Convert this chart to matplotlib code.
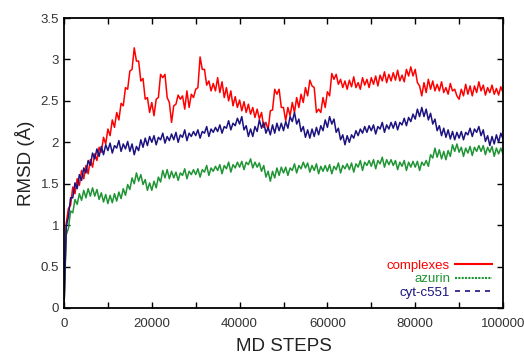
import matplotlib
matplotlib.use("Agg")
import matplotlib.pyplot as plt
from matplotlib.lines import Line2D
from matplotlib.ticker import MultipleLocator, FuncFormatter
import numpy as np

plt.rcParams['font.family'] = ['Liberation Sans', 'DejaVu Sans']

# MD steps, sampled every 500 steps
steps = np.arange(0, 100001, 500)

# RMSD (Angstrom)
complexes = [
    0.00, 1.02, 1.20, 1.24, 1.46, 1.38, 1.56, 1.48, 1.66, 1.56,
    1.72, 1.62, 1.79, 1.70, 1.86, 1.78, 1.94, 1.88, 2.06, 1.98,
    2.16, 2.08, 2.27, 2.18, 2.36, 2.27, 2.47, 2.44, 2.66, 2.64,
    2.86, 2.88, 3.14, 2.98, 2.98, 2.74, 2.77, 2.52, 2.54, 2.36,
    2.48, 2.32, 2.52, 2.54, 2.82, 2.78, 2.82, 2.54, 2.48, 2.24,
    2.44, 2.46, 2.57, 2.52, 2.56, 2.40, 2.62, 2.42, 2.58, 2.54,
    2.64, 2.66, 3.03, 2.88, 2.88, 2.69, 2.74, 2.62, 2.71, 2.62,
    2.78, 2.60, 2.73, 2.54, 2.66, 2.50, 2.62, 2.44, 2.55, 2.42,
    2.51, 2.38, 2.49, 2.36, 2.46, 2.34, 2.42, 2.30, 2.40, 2.28,
    2.36, 2.18, 2.24, 2.15, 2.38, 2.39, 2.64, 2.58, 2.64, 2.42,
    2.42, 2.26, 2.42, 2.32, 2.48, 2.36, 2.54, 2.42, 2.58, 2.48,
    2.66, 2.56, 2.75, 2.68, 2.66, 2.36, 2.40, 2.36, 2.54, 2.42,
    2.61, 2.56, 2.83, 2.76, 2.82, 2.70, 2.76, 2.66, 2.74, 2.64,
    2.75, 2.67, 2.79, 2.66, 2.72, 2.64, 2.78, 2.69, 2.76, 2.66,
    2.78, 2.70, 2.80, 2.68, 2.81, 2.74, 2.85, 2.72, 2.82, 2.74,
    2.84, 2.75, 2.87, 2.74, 2.81, 2.73, 2.88, 2.80, 2.91, 2.80,
    2.88, 2.72, 2.68, 2.56, 2.72, 2.60, 2.76, 2.64, 2.74, 2.62,
    2.70, 2.62, 2.73, 2.60, 2.66, 2.58, 2.71, 2.62, 2.64, 2.56,
    2.52, 2.64, 2.56, 2.70, 2.58, 2.68, 2.56, 2.68, 2.60, 2.73,
    2.62, 2.69, 2.57, 2.66, 2.60, 2.69, 2.58, 2.65, 2.57, 2.67,
    2.60,
]

azurin = [
    0.00, 0.88, 0.96, 1.17, 1.15, 1.31, 1.25, 1.38, 1.30, 1.42,
    1.33, 1.44, 1.35, 1.45, 1.35, 1.43, 1.31, 1.39, 1.28, 1.37,
    1.26, 1.36, 1.27, 1.38, 1.29, 1.40, 1.32, 1.44, 1.36, 1.49,
    1.43, 1.57, 1.50, 1.63, 1.53, 1.61, 1.49, 1.55, 1.42, 1.51,
    1.42, 1.53, 1.45, 1.58, 1.52, 1.66, 1.57, 1.67, 1.56, 1.65,
    1.57, 1.64, 1.54, 1.63, 1.60, 1.68, 1.56, 1.65, 1.61, 1.67,
    1.61, 1.68, 1.58, 1.67, 1.64, 1.72, 1.60, 1.69, 1.65, 1.71,
    1.66, 1.73, 1.62, 1.72, 1.68, 1.76, 1.64, 1.73, 1.69, 1.76,
    1.70, 1.77, 1.67, 1.76, 1.73, 1.80, 1.69, 1.76, 1.70, 1.75,
    1.65, 1.72, 1.58, 1.65, 1.53, 1.65, 1.57, 1.69, 1.60, 1.70,
    1.63, 1.70, 1.60, 1.69, 1.66, 1.74, 1.63, 1.72, 1.68, 1.76,
    1.69, 1.75, 1.64, 1.72, 1.66, 1.74, 1.62, 1.71, 1.65, 1.72,
    1.65, 1.73, 1.62, 1.71, 1.67, 1.75, 1.63, 1.72, 1.68, 1.74,
    1.67, 1.75, 1.64, 1.74, 1.70, 1.78, 1.66, 1.76, 1.72, 1.78,
    1.71, 1.79, 1.68, 1.78, 1.74, 1.82, 1.70, 1.79, 1.73, 1.79,
    1.72, 1.78, 1.67, 1.76, 1.71, 1.78, 1.66, 1.76, 1.70, 1.77,
    1.70, 1.77, 1.66, 1.76, 1.72, 1.78, 1.71, 1.85, 1.81, 1.93,
    1.82, 1.91, 1.80, 1.89, 1.79, 1.90, 1.83, 1.97, 1.89, 1.98,
    1.88, 1.94, 1.83, 1.93, 1.87, 1.95, 1.84, 1.94, 1.89, 1.96,
    1.89, 1.96, 1.85, 1.94, 1.88, 1.95, 1.83, 1.93, 1.86, 1.93,
    1.86,
]

cyt_c551 = [
    0.00, 0.98, 1.10, 1.33, 1.33, 1.51, 1.44, 1.61, 1.54, 1.69,
    1.63, 1.78, 1.72, 1.87, 1.80, 1.92, 1.83, 1.95, 1.85, 1.97,
    1.90, 1.99, 1.87, 1.96, 1.93, 2.02, 1.89, 1.98, 1.92, 2.01,
    1.89, 1.98, 1.85, 1.95, 1.90, 2.03, 1.94, 2.05, 1.96, 2.07,
    2.00, 2.08, 1.97, 2.06, 2.03, 2.11, 1.99, 2.07, 2.02, 2.10,
    2.03, 2.12, 2.00, 2.09, 2.06, 2.15, 2.02, 2.11, 2.07, 2.13,
    2.08, 2.15, 2.05, 2.13, 2.11, 2.19, 2.07, 2.16, 2.12, 2.18,
    2.13, 2.21, 2.11, 2.19, 2.17, 2.26, 2.15, 2.23, 2.20, 2.29,
    2.22, 2.31, 2.15, 2.20, 2.07, 2.16, 2.07, 2.19, 2.13, 2.27,
    2.17, 2.24, 2.11, 2.18, 2.09, 2.21, 2.11, 2.23, 2.14, 2.23,
    2.14, 2.25, 2.17, 2.31, 2.25, 2.36, 2.22, 2.28, 2.13, 2.19,
    2.06, 2.15, 2.05, 2.16, 2.07, 2.18, 2.09, 2.20, 2.14, 2.27,
    2.18, 2.31, 2.22, 2.28, 2.12, 2.17, 2.03, 2.09, 1.97, 2.08,
    2.00, 2.09, 2.05, 2.14, 2.08, 2.16, 2.11, 2.19, 2.12, 2.20,
    2.14, 2.21, 2.10, 2.19, 2.16, 2.24, 2.12, 2.21, 2.16, 2.24,
    2.17, 2.25, 2.15, 2.24, 2.21, 2.29, 2.20, 2.30, 2.25, 2.34,
    2.28, 2.40, 2.31, 2.42, 2.31, 2.40, 2.27, 2.35, 2.22, 2.28,
    2.14, 2.20, 2.08, 2.17, 2.06, 2.15, 2.04, 2.13, 2.03, 2.12,
    2.05, 2.13, 2.03, 2.12, 2.09, 2.17, 2.07, 2.16, 2.12, 2.19,
    2.08, 2.15, 2.01, 2.08, 1.96, 2.07, 1.98, 2.09, 2.00, 2.11,
    2.04,
]

c_red = '#ff0000'
c_green = '#1f9433'
c_blue = '#1c1280'

fig = plt.figure(figsize=(5.24, 3.54), dpi=100)
ax = fig.add_axes([64/524, 1-308/354, (503-64)/524, (308-18)/354])

ax.plot(steps, complexes, color=c_red, lw=1.1)
ax.plot(steps, azurin, color=c_green, lw=1.1)
ax.plot(steps, cyt_c551, color=c_blue, lw=1.1)

ax.set_xlim(0, 100000)
ax.set_ylim(0, 3.5)
ax.xaxis.set_major_locator(MultipleLocator(20000))
ax.xaxis.set_minor_locator(MultipleLocator(10000))
ax.yaxis.set_major_locator(MultipleLocator(0.5))
ax.yaxis.set_major_formatter(FuncFormatter(lambda v, p: f'{v:g}'))
ax.tick_params(which='both', direction='in', top=True, right=True,
               length=4, width=1, labelsize=9.5, labelcolor='#333333')
ax.tick_params(axis='x', pad=7)
for s in ax.spines.values():
    s.set_linewidth(1.3)

ax.set_xlabel('MD STEPS', fontsize=13.5, color='#222222', labelpad=6)
ax.set_ylabel('RMSD (Å)', fontsize=13.5, color='#222222', labelpad=4)

handles = [Line2D([], [], color=c_red, lw=1.5, ls='-'),
           Line2D([], [], color=c_green, lw=1.5, ls=(0, (1, 0.6))),
           Line2D([], [], color=c_blue, lw=1.2, ls=(0, (3, 3)))]
ax.legend(handles, ['complexes', 'azurin', 'cyt-c551'], loc='lower right',
          bbox_to_anchor=(0.995, 0.0), markerfirst=False, frameon=False,
          fontsize=9.5, handlelength=2.8, handletextpad=0.35,
          labelspacing=0.1, borderpad=0.2,
          labelcolor=[c_red, c_green, c_blue])

fig.savefig('out.png', dpi=100)
